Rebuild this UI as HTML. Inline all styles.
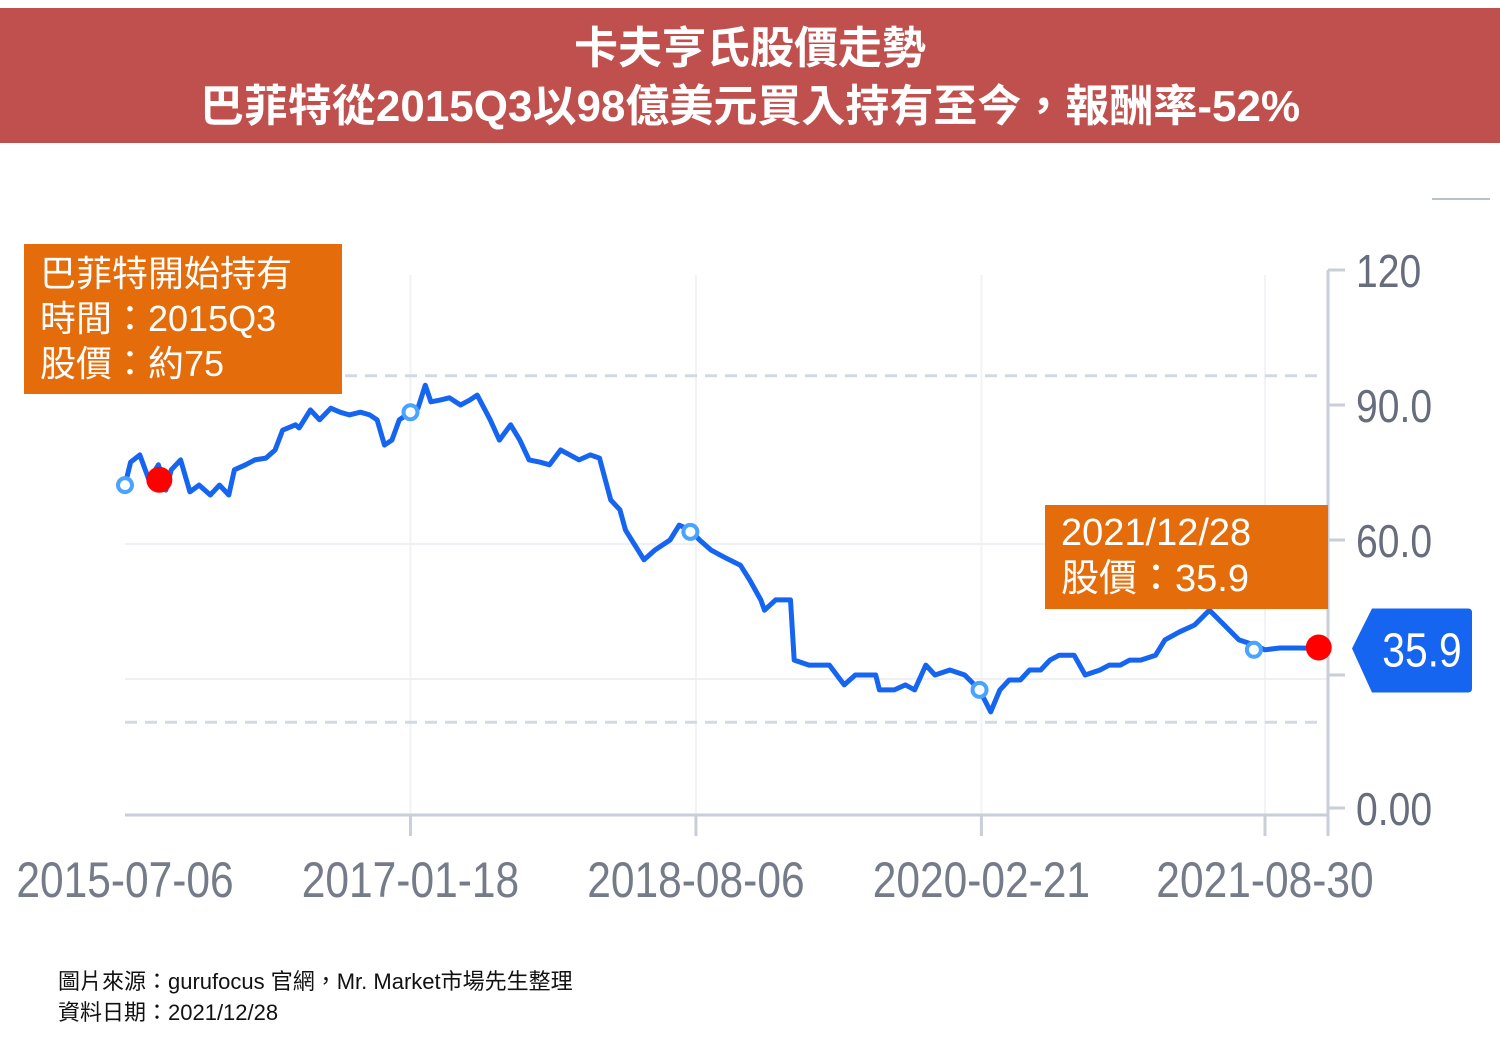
<!DOCTYPE html>
<html><head><meta charset="utf-8">
<style>
body{margin:0;width:1500px;height:1042px;background:#fff;overflow:hidden;position:relative;font-family:"Liberation Sans","Noto Sans CJK TC",sans-serif}
#title{position:absolute;left:0;top:8px;width:1500px;height:135px;background:#c0504d;color:#fff;font-weight:bold;text-align:center;font-size:44px;line-height:58px;padding-top:12px;box-sizing:border-box}
.box{position:absolute;background:#e46c0a;color:#fff;box-sizing:border-box}
#foot{position:absolute;left:58px;top:966px;font-size:22px;line-height:31px;color:#111}
svg{position:absolute;left:0;top:0}
</style></head><body>
<div id="title">卡夫亨氏股價走勢<br>巴菲特從2015Q3以98億美元買入持有至今，報酬率-52%</div>
<svg id="chart" width="1500" height="1042"></svg>
<div class="box" style="left:24px;top:244px;width:318px;height:150px;font-size:36px;line-height:45px;padding:7px 0 0 16px">巴菲特開始持有<br>時間：2015Q3<br>股價：約75</div>
<div class="box" style="left:1045px;top:505px;width:283px;height:104px;font-size:38px;line-height:46px;padding:5px 0 0 16px">2021/12/28<br>股價：35.9</div>
<div id="foot">圖片來源：gurufocus 官網，Mr. Market市場先生整理<br>資料日期：2021/12/28</div>
<script>
const years=[2015.51,2015.54,2015.59,2015.64,2015.69,2015.73,2015.76,2015.81,2015.86,2015.91,2015.97,2016.02,2016.07,2016.10,2016.16,2016.21,2016.27,2016.32,2016.36,2016.43,2016.45,2016.51,2016.56,2016.62,2016.67,2016.72,2016.78,2016.83,2016.87,2016.91,2016.95,2016.99,2017.05,2017.09,2017.13,2017.16,2017.21,2017.26,2017.32,2017.37,2017.41,2017.48,2017.53,2017.59,2017.64,2017.69,2017.75,2017.80,2017.86,2017.91,2017.96,2018.02,2018.07,2018.13,2018.18,2018.21,2018.26,2018.31,2018.37,2018.45,2018.50,2018.56,2018.61,2018.67,2018.72,2018.77,2018.83,2018.88,2018.94,2018.96,2019.02,2019.10,2019.12,2019.20,2019.31,2019.39,2019.45,2019.56,2019.58,2019.66,2019.72,2019.77,2019.83,2019.88,2019.96,2020.04,2020.12,2020.18,2020.23,2020.28,2020.34,2020.39,2020.45,2020.50,2020.55,2020.63,2020.69,2020.77,2020.82,2020.88,2020.93,2020.99,2021.07,2021.12,2021.20,2021.28,2021.36,2021.44,2021.52,2021.60,2021.66,2021.74,2021.85,2021.95];
const prices=[72.2,77.3,78.9,73.3,76.7,71.1,75.6,77.8,70.7,72.2,70.0,72.2,70.0,75.6,76.7,77.8,78.2,80.0,84.4,85.6,84.9,88.9,86.7,89.3,88.4,87.8,88.4,87.8,86.7,81.1,82.2,86.7,88.4,89.3,94.4,90.7,91.1,91.6,90.0,91.1,92.2,86.7,82.2,85.6,82.2,77.8,77.3,76.7,80.0,78.9,77.8,78.9,78.2,68.9,66.7,62.2,58.9,55.6,57.8,60.0,63.3,62.2,60.0,57.8,56.7,55.6,54.4,51.1,46.7,44.4,46.7,46.7,33.3,32.2,32.2,27.8,30.0,30.0,26.7,26.7,27.8,26.7,32.2,30.0,31.1,30.0,26.7,21.8,26.7,28.9,28.9,31.1,31.1,33.3,34.4,34.4,30.0,31.1,32.2,32.2,33.3,33.3,34.4,37.8,39.6,41.1,44.4,41.1,37.8,36.7,35.6,36.0,36.0,35.9];
const xTickYears=[2015.51,2017.05,2018.59,2020.13,2021.66];
const xTickLabels=["2015-07-06","2017-01-18","2018-08-06","2020-02-21","2021-08-30"];
const yTicks=[0,30,60,90,120];
const yTickLabels=["0.00","","60.0","90.0","120"];
const markerYears=[2015.51,2017.05,2018.56,2020.12,2021.60];
const markerPrices=[72.2,88.4,61.8,26.7,35.6];
const buyYear=2015.76, buyPrice=75.6;
const lastPrice=35.9;
const NS="http://www.w3.org/2000/svg";
const X=t=>125+(t-2015.51)*1140/(2021.66-2015.51);
const Y=v=>810-v*4.5;
const svg=document.getElementById('chart');
function mk(tag,attrs,parent){const e=document.createElementNS(NS,tag);for(const k in attrs)e.setAttribute(k,attrs[k]);(parent||svg).appendChild(e);return e;}
// grid
xTickYears.slice(1).forEach(t=>{const l=mk('line',{x1:X(t),x2:X(t),y1:275,y2:815,stroke:'#f1f3f6','stroke-width':2});

});
[60,30].forEach(v=>{const l=mk('line',{x1:125,x2:1328,y1:Y(v)+4,y2:Y(v)+4,stroke:'#eef0f4','stroke-width':2});

});
[96.5,19.5].forEach(v=>{const l=mk('line',{x1:125,x2:1325,y1:Y(v),y2:Y(v),stroke:'#d3d9e2','stroke-width':3,'stroke-dasharray':'12 8'});

});
const tl=mk('line',{x1:1432,x2:1490,y1:199,y2:199,stroke:'#b8c0cc','stroke-width':2});


// axes
const ya=mk('line',{x1:1328,x2:1328,y1:270,y2:836,stroke:'#c9ced8','stroke-width':3});


const xa=mk('line',{x1:125,x2:1328,y1:815,y2:815,stroke:'#c9ced8','stroke-width':3});


yTicks.forEach((v,i)=>{const y=v===0?808:Y(v);
const t=mk('line',{x1:1328,x2:1345,y1:y,y2:y,stroke:'#c9ced8','stroke-width':3});


const tx=mk('text',{x:1356,y:y+17,'font-size':46,fill:'#676d7c','font-family':'Liberation Sans Narrow, Liberation Sans, sans-serif',transform:`translate(${1356*0.15} 0) scale(0.85 1)`});
tx.textContent=yTickLabels[i];

});
xTickYears.forEach((t,i)=>{const x=X(t);
if(i>0){const tk=mk('line',{x1:x,x2:x,y1:815,y2:836,stroke:'#c9ced8','stroke-width':3});

}
const tx=mk('text',{x:x/0.85,y:897,'font-size':50,fill:'#767b89','text-anchor':'middle','font-family':'Liberation Sans Narrow, Liberation Sans, sans-serif',transform:'scale(0.85 1)'});
tx.textContent=xTickLabels[i];

});
// line
const pts=years.map((t,i)=>X(t).toFixed(1)+','+Y(prices[i]).toFixed(1)).join(' ');
const pl=mk('polyline',{points:pts,fill:'none',stroke:'#1565f0','stroke-width':5,'stroke-linejoin':'round','stroke-linecap':'round'});


markerYears.forEach((t,i)=>{const c=mk('circle',{cx:X(t),cy:Y(markerPrices[i]),r:7,fill:'#fff',stroke:'#4aa3ff','stroke-width':4});

});
const d1=mk('circle',{cx:X(buyYear)-12,cy:Y(buyPrice)+10,r:13,fill:'#ff0000'});


const d2=mk('circle',{cx:X(years[years.length-1]),cy:Y(lastPrice)-1,r:13,fill:'#ff0000'});


// price tag
const ly=Y(lastPrice);
const tag=mk('path',{d:`M1352 ${ly} L1372 ${ly-40} L1468 ${ly-40} Q1472 ${ly-40} 1472 ${ly-36} L1472 ${ly+40} Q1472 ${ly+44} 1468 ${ly+44} L1372 ${ly+44} Z`,fill:'#1565f0'});


const tt=mk('text',{x:1422/0.85,y:ly+18,'font-size':48,fill:'#fff','text-anchor':'middle','font-family':'Liberation Sans Narrow, Liberation Sans, sans-serif',transform:'scale(0.85 1)'});
tt.textContent=lastPrice.toFixed(1);


</script>
</body></html>
